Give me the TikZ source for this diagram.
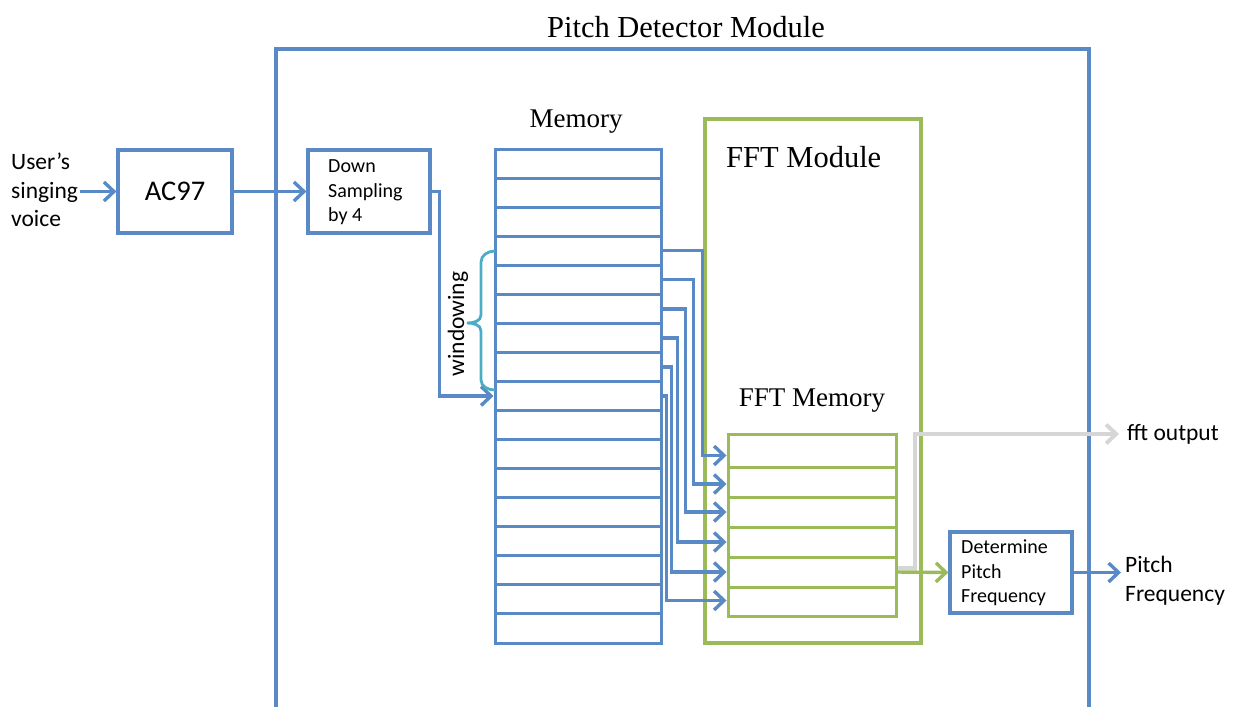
\documentclass[tikz,border=0pt]{standalone}
\usepackage{fontspec}
\setmainfont{Liberation Serif}
\newfontfamily\calib{Carlito}
\usetikzlibrary{arrows.meta}
\definecolor{bl}{HTML}{5A8AC6}
\definecolor{gr}{HTML}{9BBB59}
\definecolor{cy}{HTML}{4BACC6}
\definecolor{gy}{HTML}{D6D6D6}
\tikzset{
  box/.style={draw=bl, line width=3.2pt, inner sep=0pt},
  gbox/.style={draw=gr, line width=3.2pt, inner sep=0pt},
  mcell/.style={draw=bl, line width=3pt, minimum width=166pt, minimum height=29.06pt, inner sep=0pt},
  fcell/.style={draw=gr, line width=3pt, minimum width=168pt, inner sep=0pt},
  conn/.style={draw=bl, line width=3.4pt},
  arr/.style={conn, -{Straight Barb[length=10pt,width=19pt,line width=3.4pt]}},
  garr/.style={draw=gr, line width=3.4pt, -{Straight Barb[length=10pt,width=19pt,line width=3.4pt]}},
  yarr/.style={draw=gy, line width=4pt, -{Straight Barb[length=10pt,width=19pt,line width=4pt]}},
  sans/.style={font=\calib\fontsize{23.5}{28.5}\selectfont, inner sep=0pt, align=left},
  small/.style={font=\calib\fontsize{20}{24.5}\selectfont, inner sep=0pt, align=left},
  serif/.style={font=\fontsize{27}{32}\selectfont, inner sep=0pt},
}
\begin{document}
\begin{tikzpicture}[x=1pt,y=-1pt]
\useasboundingbox (0,0) rectangle (1236,707);
% outer module
\draw[bl, line width=3.2pt] (276,707) -- (276,49) -- (1089,49) -- (1089,707);
\node[serif, font=\fontsize{30.5}{35}\selectfont] (title) at (686,27) {Pitch Detector Module};
% FFT module
\node[gbox, minimum width=216pt, minimum height=524pt] (fftmod) at (813,381) {};
\node[serif, font=\fontsize{30.5}{35}\selectfont, anchor=west] (fftlab) at (726,157) {FFT Module};
% input
\node[sans, anchor=west] (user) at (11,190) {User’s\\singing\\voice};
\node[box, minimum width=114pt, minimum height=83pt, font=\calib\fontsize{28.5}{33}\selectfont] (ac) at (175,191.5) {AC97};
\node[box, minimum width=122pt, minimum height=83pt] (ds) at (369,191.5) {};
\node[small, anchor=west] (dstext) at (328,192.5) {Down\\Sampling\\by 4};
% memory
\node[serif] (memlab) at (576,122) {Memory};
\foreach \k in {0,...,16}{
  \node[mcell] (m\k) at (578,{149+29.06*(\k+0.5)}) {};
}
% FFT memory
\node[serif] (fmemlab) at (812,401) {FFT Memory};
\foreach \k/\a/\b in {0/434/467,1/467/497,2/497/527,3/527/557,4/557/587,5/587/616}{
  \node[fcell, minimum height={\b-\a}] (f\k) at (812,{(\a+\b)/2}) {};
}
% determine
\node[box, minimum width=122pt, minimum height=81pt] (dp) at (1011,572.5) {};
\node[small, anchor=west] (dptext) at (961,573) {Determine\\Pitch\\Frequency};
% outputs
\node[sans, anchor=west] (fftout) at (1127,434) {fft output};
\node[sans, anchor=north west] (pf) at (1125,556) {Pitch\\Frequency};
% connectors
\draw[arr] ([xshift=2pt]user.east |- ac.west) -- (ac.west);
\draw[arr] (ac.east) -- (ds.west);
\draw[arr] (ds.east) -- ++(8,0) |- (m8.west);
\draw[arr] (m3.east) -| ([xshift=-24pt,yshift=-5pt]f0.west) -- ([yshift=-5pt]f0.west);
\draw[arr] (m4.east) -| ([xshift=-33pt,yshift=-2pt]f1.west) -- ([yshift=-2pt]f1.west);
\draw[arr] (m5.east) -| ([xshift=-41pt]f2.west) -- (f2.west);
\draw[arr] (m6.east) -| ([xshift=-49pt]f3.west) -- (f3.west);
\draw[arr] (m7.east) -| ([xshift=-55pt]f4.west) -- (f4.west);
\draw[arr] (m8.east) -| ([xshift=-60pt,yshift=1pt]f5.west) -- ([yshift=1pt]f5.west);
\draw[garr] (f4.east) -- (dp.west);
\draw[yarr] ([yshift=4pt]f4.east) -- ++(17,0) |- ([xshift=-8pt]fftout.west);
\draw[arr] (dp.east) -- ([xshift=-4pt]dp.east -| pf.west);
% windowing brace
\coordinate (b1) at (495,251);
\coordinate (b2) at (495,390);
\draw[cy, line width=2.8pt] (b1) to[out=180,in=90] (481,262) -- (481,315) to[out=-90,in=0] (467,323)
  to[out=0,in=90] (481,331) -- (481,380) to[out=-90,in=180] (b2);
\node[font=\calib\fontsize{23.5}{28}\selectfont, rotate=90, inner sep=0pt] (win) at (458,324) {windowing};
\end{tikzpicture}
\end{document}
